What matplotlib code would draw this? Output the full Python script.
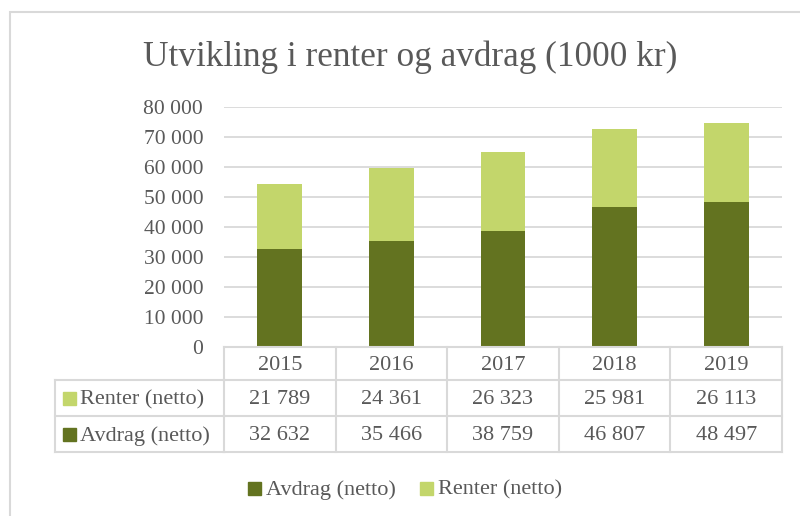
import matplotlib
matplotlib.use("Agg")
import matplotlib.pyplot as plt
from matplotlib.patches import Rectangle
from matplotlib.lines import Line2D
from matplotlib.transforms import blended_transform_factory

years = ["2015", "2016", "2017", "2018", "2019"]
avdrag = [32632, 35466, 38759, 46807, 48497]
renter = [21789, 24361, 26323, 25981, 26113]
series_names = ["Avdrag (netto)", "Renter (netto)"]
yticks = [0, 10000, 20000, 30000, 40000, 50000, 60000, 70000, 80000]

c_avdrag = "#637320"
c_renter = "#c3d66b"
c_text = "#595959"
c_grid = "#d9d9d9"

plt.rcParams["font.family"] = ["Liberation Serif", "DejaVu Serif"]

W, H = 800, 516
fig = plt.figure(figsize=(W / 100, H / 100), dpi=100)

def fx(px):
    return px / W

def fy(py):
    return 1 - py / H

# outer chart border
fig.patches.append(Rectangle((fx(10), fy(530)), fx(800), 518 / H,
                             transform=fig.transFigure, fill=False,
                             edgecolor=c_grid, lw=1.5))

ax = fig.add_axes([fx(224), fy(347), fx(558), 240 / H])
x = list(range(len(years)))
ax.bar(x, avdrag, width=0.4, color=c_avdrag, zorder=3, label=series_names[0])
ax.bar(x, renter, width=0.4, bottom=avdrag, color=c_renter, zorder=3, label=series_names[1])
ax.set_xlim(-0.5, len(years) - 0.5)
ax.set_ylim(0, 80000)
ax.set_yticks(yticks)
ax.set_yticklabels([f"{v:,}".replace(",", " ") for v in yticks], fontsize=15.5, color=c_text)
ax.set_xticks([])
ax.tick_params(axis="y", length=0, pad=15)
ax.grid(axis="y", color=c_grid, lw=1.3, zorder=0)
for s in ax.spines.values():
    s.set_visible(False)

fig.text(fx(410), fy(57), "Utvikling i renter og avdrag (1000 kr)", ha="center",
         va="center", fontsize=25.4, color=c_text)

# data table
tr = blended_transform_factory(ax.transData, fig.transFigure)
rows_y = [347, 380, 416, 452]
row_vals = [years, [f"{v:,}".replace(",", " ") for v in renter],
            [f"{v:,}".replace(",", " ") for v in avdrag]]
lkw = dict(color=c_grid, lw=1.5, zorder=5, clip_on=False)
for y in rows_y:
    fig.add_artist(Line2D([-0.5, len(years) - 0.5], [fy(y), fy(y)], transform=tr, **lkw))
for xi in range(len(years) + 1):
    fig.add_artist(Line2D([xi - 0.5, xi - 0.5], [fy(347), fy(452)], transform=tr, **lkw))
for r in range(3):
    yc = fy((rows_y[r] + rows_y[r + 1]) / 2 + 2)
    for xi, v in enumerate(row_vals[r]):
        fig.text(0, yc, v, transform=tr, ha="center", va="center", fontsize=16,
                 color=c_text).set_x(xi)

# row label cells
for y in rows_y[1:]:
    fig.add_artist(Line2D([fx(55), fx(224)], [fy(y), fy(y)], transform=fig.transFigure, **lkw))
fig.add_artist(Line2D([fx(55), fx(55)], [fy(380), fy(452)], transform=fig.transFigure, **lkw))
for (name, col), (y0, y1) in zip([(series_names[1], c_renter), (series_names[0], c_avdrag)],
                                 [(380, 416), (416, 452)]):
    yc = (y0 + y1) / 2
    fig.patches.append(Rectangle((fx(63), fy(yc + 6.5)), fx(13), 13 / H,
                                 transform=fig.transFigure, color=col))
    fig.text(fx(80), fy(yc + 2), name, ha="left", va="center", fontsize=16, color=c_text)

# legend
for (name, col), kx in zip([(series_names[0], c_avdrag), (series_names[1], c_renter)], [248, 420]):
    fig.patches.append(Rectangle((fx(kx), fy(494.5)), fx(13), 13 / H,
                                 transform=fig.transFigure, color=col))
    fig.text(fx(kx + 18), fy(490), name, ha="left", va="center", fontsize=16, color=c_text)

fig.savefig("out.png", dpi=100)
